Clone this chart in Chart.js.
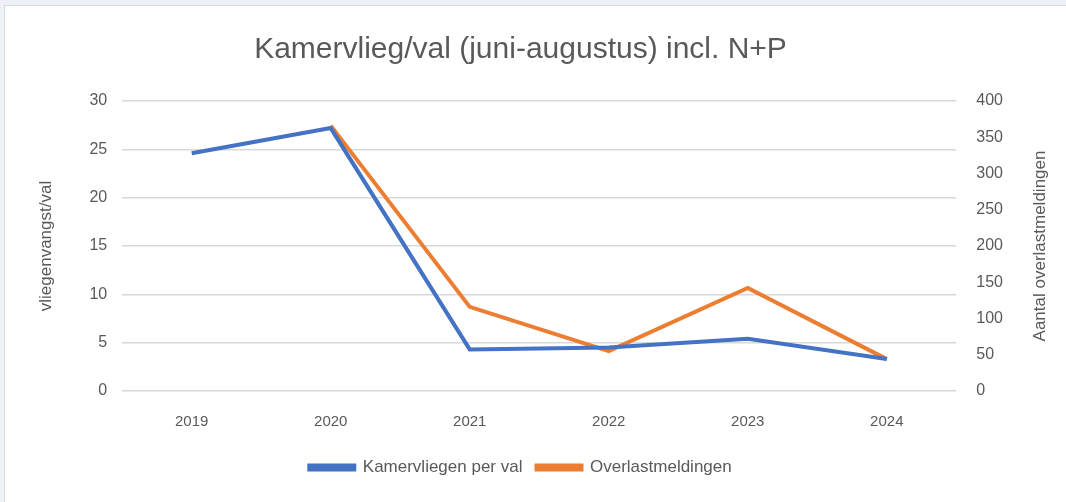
<!DOCTYPE html>
<html>
<head>
<meta charset="utf-8">
<script src="https://cdn.jsdelivr.net/npm/chart.js@4/dist/chart.umd.min.js"></script>
<style>
  html, body { margin: 0; padding: 0; background: #eef2f8; }
  body { width: 1066px; height: 502px; overflow: hidden; position: relative; }
  #card { position: absolute; left: 4px; top: 5px; width: 1070px; height: 500px; background: #fff; border: 1px solid #d9d9d9; }
  #wrap { position: absolute; left: 0; top: 0; width: 1062px; height: 497px; }
</style>
</head>
<body>
<div id="card"><div id="wrap"><canvas id="flyChart"></canvas></div></div>
<script>
const years = ["2019", "2020", "2021", "2022", "2023", "2024"];
const fliesPerTrap = [24.6, 27.2, 4.3, 4.5, 5.4, 3.3];
const complaints = [null, 366, 116, 55, 142, 44];

const grey = "#595959";
const font = "'Liberation Sans Narrow', 'Liberation Sans', sans-serif";

// right axis title reads bottom-to-top, like the left one
const rightTitle = {
  id: "rightTitle",
  afterDraw(chart) {
    const s = chart.scales.y1;
    const c = chart.ctx;
    c.save();
    c.translate(s.right + 17, (s.top + s.bottom) / 2);
    c.rotate(-Math.PI / 2);
    c.fillStyle = grey;
    c.font = "17px " + font;
    c.textAlign = "center";
    c.textBaseline = "middle";
    c.fillText("Aantal overlastmeldingen", 0, 0);
    c.restore();
  }
};

document.addEventListener("DOMContentLoaded", () => {
  const ctx = document.getElementById("flyChart");
  new Chart(ctx, {
    type: "line",
    data: {
      labels: years,
      datasets: [{
        label: "Kamervliegen per val",
        data: fliesPerTrap,
        borderColor: "#4472C4",
        backgroundColor: "#4472C4",
        borderWidth: 4,
        pointRadius: 0,
        tension: 0,
        yAxisID: "y"
      }, {
        label: "Overlastmeldingen",
        data: complaints,
        borderColor: "#ED7D31",
        backgroundColor: "#ED7D31",
        borderWidth: 4,
        pointRadius: 0,
        tension: 0,
        yAxisID: "y1"
      }]
    },
    options: {
      responsive: true,
      maintainAspectRatio: false,
      animation: false,
      layout: { padding: { left: 13, right: 44, top: 26, bottom: 17 } },
      plugins: {
        title: {
          display: true,
          text: "Kamervlieg/val (juni-augustus) incl. N+P",
          color: grey,
          font: { family: font, size: 30, weight: "normal" },
          padding: { top: 0, bottom: 33 }
        },
        legend: {
          position: "bottom",
          labels: {
            color: grey,
            font: { family: font, size: 17 },
            boxWidth: 45,
            boxHeight: 4,
            padding: 14
          }
        },
        tooltip: { enabled: false }
      },
      scales: {
        x: {
          offset: true,
          grid: { display: false },
          border: { display: false },
          ticks: { color: grey, font: { family: font, size: 15 }, padding: 14 }
        },
        y: {
          position: "left",
          min: 0,
          max: 30,
          ticks: { stepSize: 5, color: grey, font: { family: font, size: 16 }, padding: 15 },
          grid: { color: "#d9d9d9", lineWidth: 1.5, drawTicks: false },
          border: { display: false },
          title: { display: true, text: "vliegenvangst/val", color: grey, font: { family: font, size: 17 }, padding: 18 }
        },
        y1: {
          position: "right",
          min: 0,
          max: 400,
          ticks: { stepSize: 50, color: grey, font: { family: font, size: 16 }, padding: 20 },
          grid: { display: false, drawTicks: false },
          border: { display: false }
        }
      }
    },
    plugins: [rightTitle]
  });
});
</script>
</body>
</html>
